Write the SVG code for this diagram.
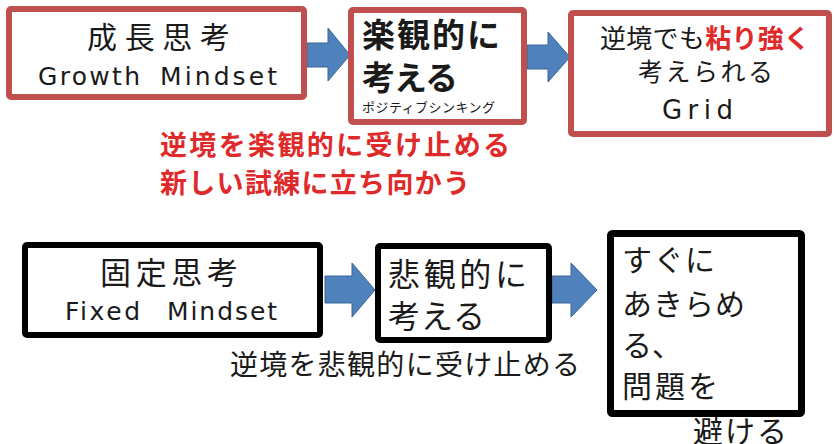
<svg xmlns="http://www.w3.org/2000/svg" width="834" height="444" viewBox="0 0 834 444">
<style>
.red{fill:#fff;stroke:#C0504D;stroke-width:6}
.blk{fill:#fff;stroke:#000;stroke-width:6}
.t{font-family:"Noto Sans CJK JP","Liberation Sans",sans-serif;fill:#1a1a1a}
.l{font-family:"DejaVu Sans","Liberation Sans",sans-serif;fill:#1a1a1a}
.rt{font-family:"Noto Sans CJK JP",sans-serif;fill:#E02A2A;font-weight:bold}
.arr{fill:#4F81BD;stroke:#3A6596;stroke-width:1}
</style>
<rect width="834" height="444" fill="#fff"/>
<g id="connectors">
<polygon class="arr" points="307,43 328,43 328,28 350,55 328,81 328,67 307,67"/>
<polygon class="arr" points="527,45 548,45 548,32 570,57 548,82 548,69 527,69"/>
<polygon class="arr" points="325,276 352,276 352,263 375,290 352,317 352,303 325,303"/>
<polygon class="arr" points="552,276 571,276 571,263 597,290 571,317 571,303 552,303"/>
</g>
<g id="growth">
<rect class="red" x="9" y="9" width="295" height="88" rx="2"/>
<text class="t" x="87" y="48" font-size="30" textLength="143" lengthAdjust="spacing">成長思考</text>
<text class="l" y="85" font-size="25"><tspan x="38" textLength="102" lengthAdjust="spacing">Growth</tspan><tspan x="160" textLength="117" lengthAdjust="spacing">Mindset</tspan></text>
</g>
<g id="optimistic">
<rect class="red" x="351" y="10" width="173" height="112" rx="2"/>
<text class="t" x="362" y="47" font-size="33" font-weight="bold" textLength="138" lengthAdjust="spacing">楽観的に</text>
<text class="t" x="362" y="90" font-size="33" font-weight="bold" textLength="96" lengthAdjust="spacing">考える</text>
<text class="t" x="362" y="112" font-size="13" textLength="133" lengthAdjust="spacing">ポジティブシンキング</text>
</g>
<g id="grid">
<rect class="red" x="571" y="13" width="258" height="121" rx="2"/>
<text class="t" x="600" y="48" font-size="26" textLength="210" lengthAdjust="spacing">逆境でも<tspan fill="#E02A2A" font-weight="bold">粘り強く</tspan></text>
<text class="t" x="638" y="81" font-size="25" textLength="135" lengthAdjust="spacing">考えられる</text>
<text class="l" x="662" y="119" font-size="26" textLength="71" lengthAdjust="spacing">Grid</text>
</g>
<g id="growth-note">
<text class="rt" x="160" y="155" font-size="27" textLength="350" lengthAdjust="spacing">逆境を楽観的に受け止める</text>
<text class="rt" x="160" y="193" font-size="27" textLength="310" lengthAdjust="spacing">新しい試練に立ち向かう</text>
</g>
<g id="fixed">
<rect class="blk" x="25" y="245" width="295" height="90" rx="2"/>
<text class="t" x="100" y="284" font-size="31" textLength="138" lengthAdjust="spacing">固定思考</text>
<text class="l" y="320" font-size="25"><tspan x="65" textLength="75" lengthAdjust="spacing">Fixed</tspan><tspan x="167" textLength="110" lengthAdjust="spacing">Mindset</tspan></text>
</g>
<g id="pessimistic">
<rect class="blk" x="378" y="246" width="171" height="94" rx="2"/>
<text class="t" x="388" y="286" font-size="32" textLength="139" lengthAdjust="spacing">悲観的に</text>
<text class="t" x="388" y="328" font-size="32" textLength="97" lengthAdjust="spacing">考える</text>
</g>
<g id="fixed-note">
<text class="t" x="230" y="375" font-size="28" textLength="350" lengthAdjust="spacing">逆境を悲観的に受け止める</text>
</g>
<g id="giveup">
<text class="t" x="693" y="442" font-size="30" textLength="94" lengthAdjust="spacing">避ける</text>
<rect class="blk" x="610.5" y="233.5" width="191" height="180" rx="2" style="stroke-width:7"/>
<text class="t" x="622" y="271" font-size="30" textLength="93" lengthAdjust="spacing">すぐに</text>
<text class="t" x="622" y="315" font-size="30" textLength="123" lengthAdjust="spacing">あきらめ</text>
<text class="t" x="622" y="356" font-size="30">る、</text>
<text class="t" x="622" y="397" font-size="30" textLength="96" lengthAdjust="spacing">問題を</text>
</g>
</svg>
